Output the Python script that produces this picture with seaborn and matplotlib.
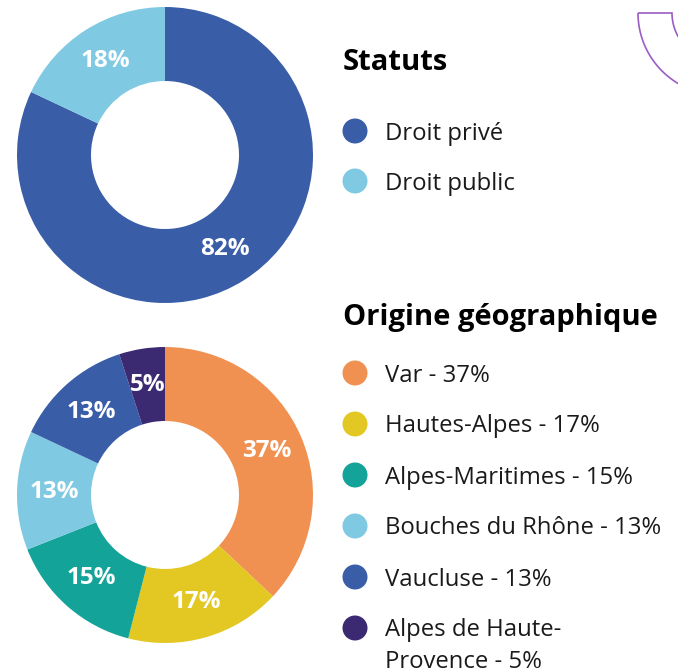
import numpy as np
import matplotlib
matplotlib.use("Agg")
import matplotlib.pyplot as plt
from matplotlib.patches import Circle, Polygon
import seaborn as sns

# data
statut_labels = ["Droit privé", "Droit public"]
statut_values = [82, 18]
statut_colors = ["#3a5da8", "#7fc9e2"]

origine_labels = ["Var", "Hautes-Alpes", "Alpes-Maritimes", "Bouches du Rhône",
                  "Vaucluse", "Alpes de Haute-\nProvence"]
origine_values = [37, 17, 15, 13, 13, 5]
origine_colors = ["#f09152", "#e3c723", "#13a398", "#7fc9e2", "#3a5da8", "#3b2a72"]

sns.set_theme(style="white")
plt.rcParams["font.family"] = ["Open Sans", "DejaVu Sans"]

W, H = 678, 670
fig = plt.figure(figsize=(W / 100, H / 100), dpi=100)

# overlay axes in pixel coords (y down) for legends and decoration
over = fig.add_axes([0, 0, 1, 1])
over.set_xlim(0, W)
over.set_ylim(H, 0)
over.axis("off")
over.patch.set_alpha(0)


def donut(top_px, values, colors):
    # donut box: left 17px, side 296px
    ax = fig.add_axes([17 / W, (H - top_px - 296) / H, 296 / W, 296 / H])
    ax.pie(
        values,
        colors=colors,
        startangle=90,
        counterclock=False,
        radius=1,
        wedgeprops=dict(width=0.5, linewidth=0),
        autopct=lambda p: f"{round(p)}%",
        pctdistance=0.75,
        textprops=dict(color="white", fontsize=17.5, fontweight="bold"),
    )
    ax.set_xlim(-1, 1)
    ax.set_ylim(-1, 1)
    return ax


donut(7, statut_values, statut_colors)
donut(347, origine_values, origine_colors)


def legend_block(title, title_base, first_y, step, labels, colors):
    over.text(343, title_base, title, fontsize=21, fontweight="bold",
              color="black", va="baseline", ha="left")
    y = first_y
    for lab, col in zip(labels, colors):
        over.add_patch(Circle((355, y), 12.5, color=col, lw=0))
        for k, line in enumerate(lab.split("\n")):
            over.text(385, y + 8.5 + k * 31, line, fontsize=17.2, color="#1a1a1a",
                      va="baseline", ha="left")
        y += step


legend_block("Statuts", 70, 131, 50, statut_labels, statut_colors)
legend_block("Origine géographique", 325, 373, 51,
             [f"{n} - {v}%" for n, v in zip(origine_labels, origine_values)],
             origine_colors)

# decorative outlined arc, top right corner
cx, cy, r_out, r_in = 720, 13, 82, 48
th = np.linspace(0, np.pi / 2, 60)
outer = np.column_stack([cx - r_out * np.cos(th), cy + r_out * np.sin(th)])
inner = np.column_stack([cx - r_in * np.cos(th[::-1]), cy + r_in * np.sin(th[::-1])])
over.add_patch(Polygon(np.vstack([outer, inner]), closed=True, fill=False,
                       edgecolor="#9b5cc4", lw=1.2))

fig.savefig("out.png", dpi=100)
